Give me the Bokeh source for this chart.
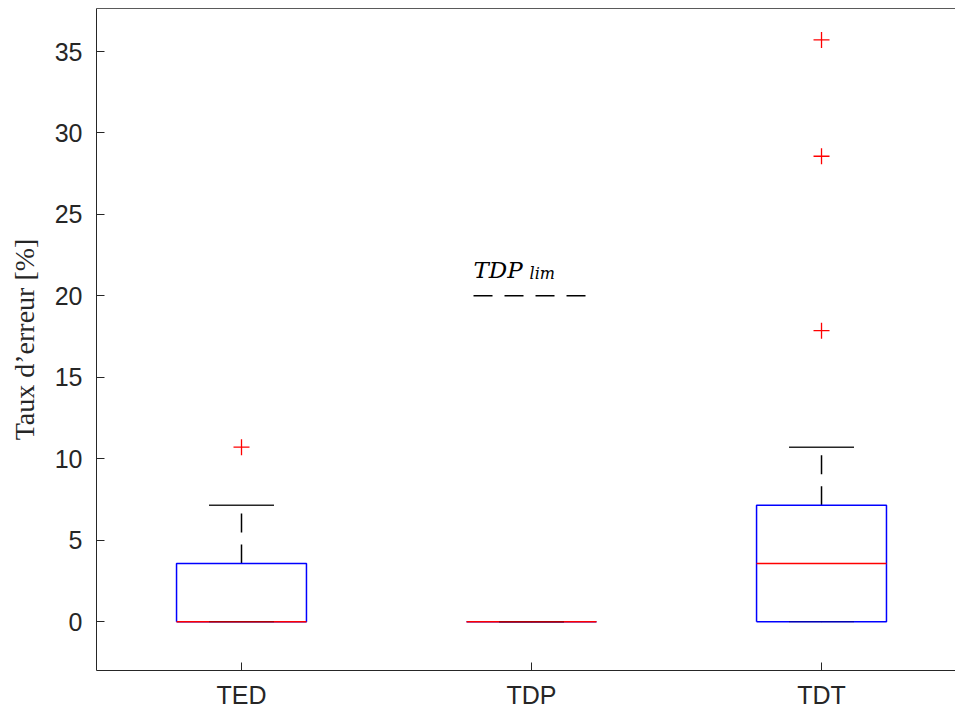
import numpy as np
from bokeh.plotting import figure
from bokeh.models import Range1d, FixedTicker, LinearAxis
from bokeh.core.properties import value
from bokeh.embed import file_html
from bokeh.resources import INLINE

# ---- data ----
categories = ["TED", "TDP", "TDT"]
q1 = [0.0, 0.0, 0.0]
median = [0.0, 0.0, 3.57]
q3 = [3.57, 0.0, 7.14]
whisker_low = [0.0, 0.0, 0.0]
whisker_high = [7.14, 0.0, 10.71]
outlier_cat = ["TED", "TDT", "TDT", "TDT"]
outlier_val = [10.71, 17.86, 28.57, 35.71]
tdp_lim = 20.0
tdp_lim_x = [1.8, 2.2]
y_ticks = [0, 5, 10, 15, 20, 25, 30, 35]
y_label = "Taux d’erreur [%]"

# ---- style ----
BOX_HALF = 0.224
CAP_HALF = 0.112
AXC = "#262626"

pos = np.arange(1, len(categories) + 1, dtype=float)
p = figure(width=955, height=711,
           x_range=Range1d(0.5, 3.462), y_range=Range1d(-3.0, 37.64),
           output_backend="svg", toolbar_location=None,
           min_border_left=96, min_border_right=0, min_border_top=8, min_border_bottom=41)
p.grid.visible = False
p.background_fill_color = "white"
p.border_fill_color = "white"
p.outline_line_color = None

xax = p.below[0]
yax = p.left[0]

# top border line (no right border visible in the reference)
top = LinearAxis(ticker=FixedTicker(ticks=[]), axis_line_color="#5a5a5a", axis_line_width=1,
                 major_tick_line_color=None, minor_tick_line_color=None,
                 major_label_text_font_size="0px", major_label_standoff=0)
p.add_layout(top, "above")

# whiskers (dashed)
p.segment(x0=pos, y0=q3, x1=pos, y1=whisker_high, line_color="black",
          line_width=1.5, line_dash="19 12")
p.segment(x0=pos, y0=q1, x1=pos, y1=whisker_low, line_color="black",
          line_width=1.5, line_dash="19 12")
# upper caps
p.segment(x0=pos - CAP_HALF, y0=whisker_high, x1=pos + CAP_HALF, y1=whisker_high,
          line_color="black", line_width=1.5, line_alpha=0.85)

# boxes
xs = [[c - BOX_HALF, c + BOX_HALF, c + BOX_HALF, c - BOX_HALF, c - BOX_HALF] for c in pos]
ys = [[a, a, b, b, a] for a, b in zip(q1, q3)]
p.multi_line(xs=xs, ys=ys, line_color="blue", line_width=1.5)

# medians
p.segment(x0=pos - BOX_HALF, y0=median, x1=pos + BOX_HALF, y1=median,
          line_color="red", line_width=1.5)
# lower caps (drawn over the box bottoms)
p.segment(x0=pos - CAP_HALF, y0=whisker_low, x1=pos + CAP_HALF, y1=whisker_low,
          line_color="black", line_width=1.5, line_alpha=0.3)

# outliers
ox = [categories.index(c) + 1 for c in outlier_cat]
p.scatter(x=ox, y=outlier_val, marker="cross", size=16, line_color="red", line_width=1.3)

# TDP limit line + label
p.line(x=tdp_lim_x, y=[tdp_lim, tdp_lim], line_color="black", line_width=1.5, line_dash="19 12")
p.text(x=[tdp_lim_x[0]], y=[tdp_lim], text=["TDP"], y_offset=-26,
       text_font=value("DejaVu Serif"), text_font_style="italic",
       text_font_size="23px", text_color="black", text_baseline="alphabetic")
p.text(x=[tdp_lim_x[0]], y=[tdp_lim], text=["lim"], x_offset=56, y_offset=-22,
       text_font=value("DejaVu Serif"), text_font_style="italic",
       text_font_size="16px", text_color="black", text_baseline="alphabetic")

# axes
xax.ticker = FixedTicker(ticks=list(pos))
xax.major_label_overrides = {i + 1: c for i, c in enumerate(categories)}
yax.ticker = FixedTicker(ticks=y_ticks)
for ax in (xax, yax):
    ax.axis_line_color = AXC
    ax.axis_line_width = 1
    ax.major_tick_line_color = AXC
    ax.major_tick_in = 8
    ax.major_tick_out = 0
    ax.minor_tick_line_color = None
    ax.major_label_text_font = "Liberation Sans"
    ax.major_label_text_font_size = "25px"
    ax.major_label_text_color = AXC
xax.major_label_standoff = 10
yax.major_label_standoff = 14

yax.axis_label = y_label
yax.axis_label_text_font = "Liberation Serif"
yax.axis_label_text_font_style = "normal"
yax.axis_label_text_font_size = "28px"
yax.axis_label_text_color = AXC
yax.axis_label_standoff = 12

open("out.html", "w").write(file_html(p, INLINE))
